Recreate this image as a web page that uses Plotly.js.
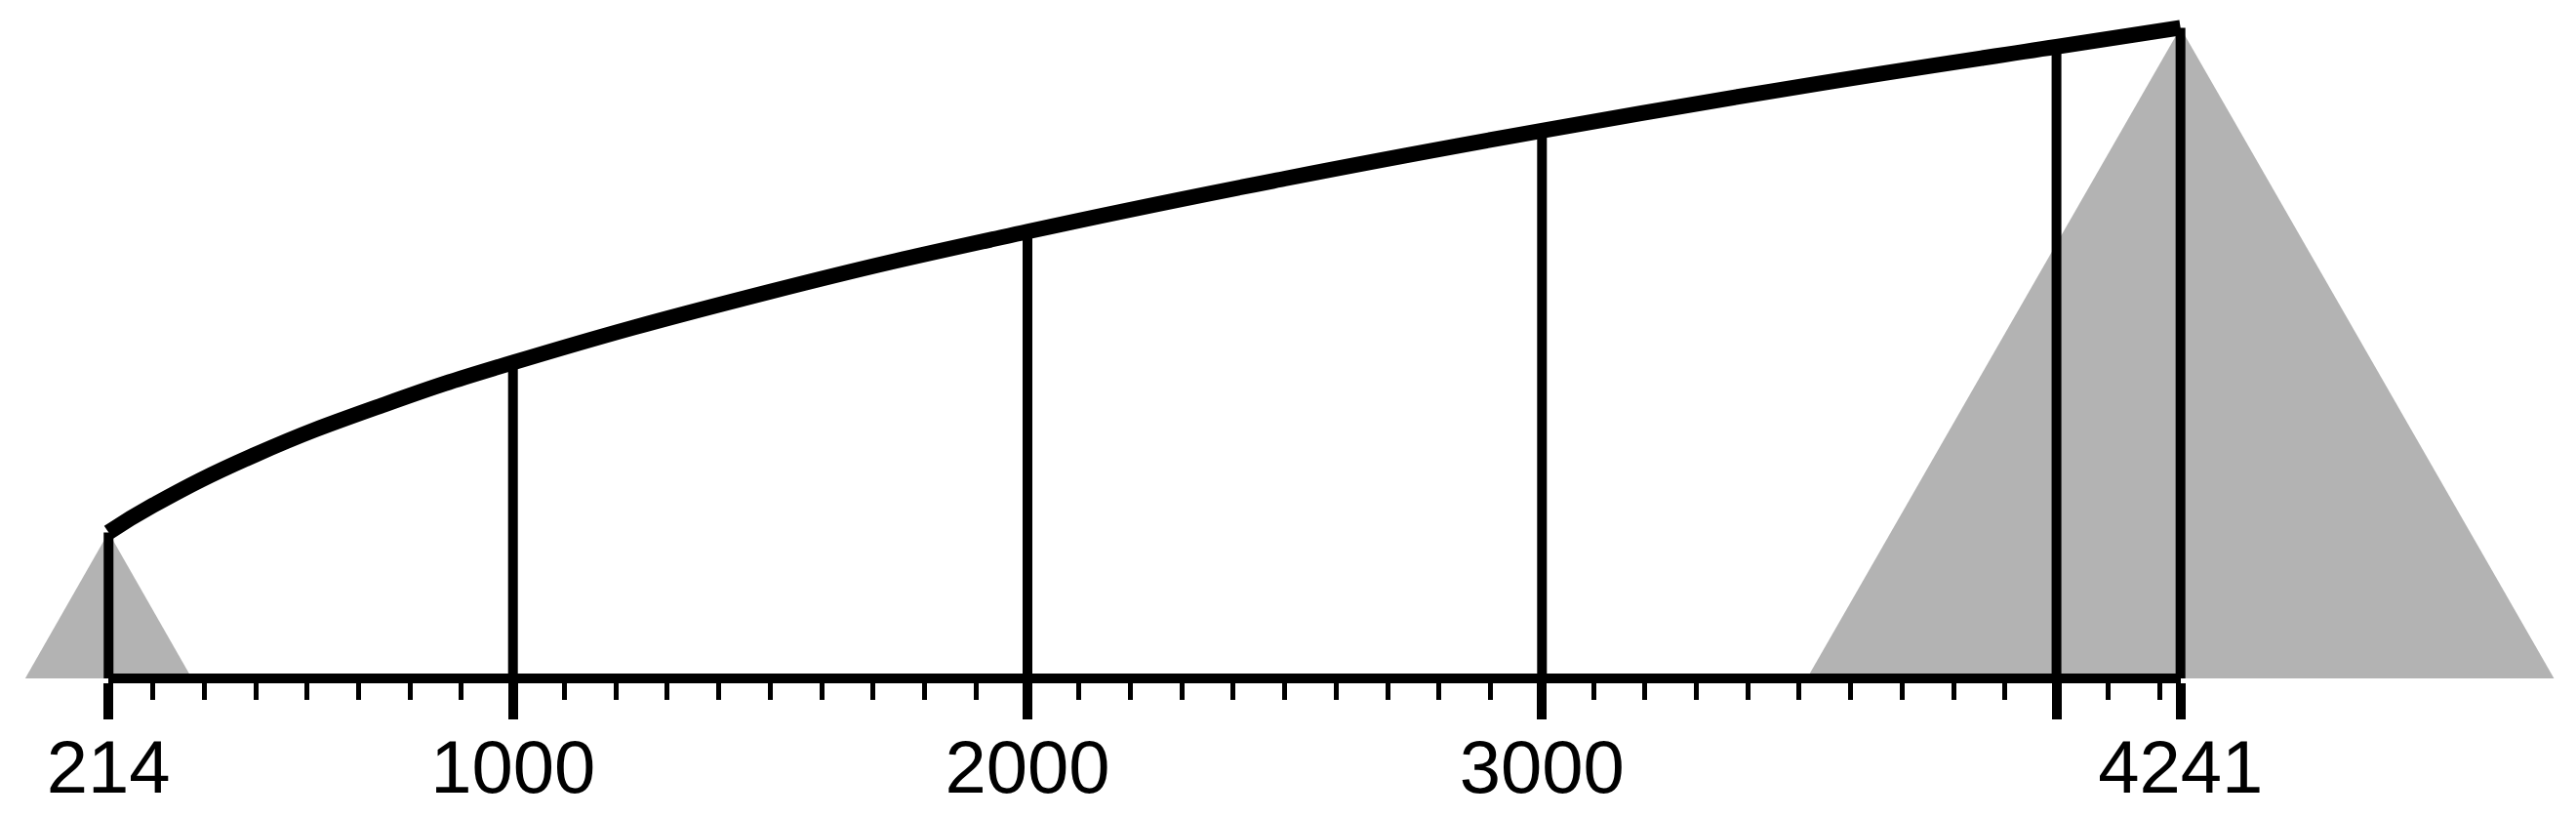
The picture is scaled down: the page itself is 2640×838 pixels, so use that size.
<!DOCTYPE html>
<html><head><meta charset="utf-8">
<script src="https://cdn.plot.ly/plotly-3.0.1.min.js"></script>
<style>html,body{margin:0;padding:0;background:#fff}#chart{width:2640px;height:838px}</style>
</head><body><div id="chart"></div>
<script>
// Curve: positions and heights
const curveX = [214, 300, 500, 750, 1000, 1500, 2000, 2500, 3000, 3500, 4000, 4241];
const curveH = [14.6, 17.3, 22.4, 27.4, 31.6, 38.7, 44.7, 50.0, 54.8, 59.2, 63.2, 65.1];
// Vertical stems up to the curve
const stemX = [214, 1000, 2000, 3000, 4000, 4241];
const stemH = [14.6, 31.6, 44.7, 54.8, 63.2, 65.1];
// Axis ticks
const tickVals = [214, 1000, 2000, 3000, 4000, 4241];
const tickText = ['214', '1000', '2000', '3000', '', '4241'];
// Grey triangles
const triApexX = [214, 4241];
const triApexH = [14.6, 65.1];
const triBaseLeft = [52, 3515];
const triBaseRight = [376, 4967];

const traces = [];
for (let i = 0; i < triApexX.length; i++) {
  traces.push({
    type: 'scatter', mode: 'lines',
    x: [triBaseLeft[i], triApexX[i], triBaseRight[i], triBaseLeft[i]],
    y: [0, triApexH[i], 0, 0],
    fill: 'toself', fillcolor: '#b3b3b3',
    line: {width: 0, color: '#b3b3b3'},
    hoverinfo: 'skip'
  });
}
const sx = [], sy = [];
stemX.forEach((x, i) => { sx.push(x, x, null); sy.push(0, stemH[i], null); });
traces.push({type: 'scatter', mode: 'lines', x: sx, y: sy,
  line: {color: '#000', width: 10}, hoverinfo: 'skip'});
traces.push({type: 'scatter', mode: 'lines', x: curveX, y: curveH,
  line: {color: '#000', width: 16, shape: 'spline', smoothing: 1.3}, hoverinfo: 'skip'});
traces.push({type: 'scatter', mode: 'markers', x: [tickVals[0]], y: [0],
  xaxis: 'x2', yaxis: 'y', marker: {opacity: 0}, hoverinfo: 'skip'});

const layout = {
  width: 2640, height: 838,
  margin: {l: 0, r: 0, t: 0, b: 0, pad: 0},
  showlegend: false,
  paper_bgcolor: '#ffffff', plot_bgcolor: 'rgba(0,0,0,0)',
  xaxis: {domain: [0, 1], range: [3.0, 5009.7], visible: false},
  yaxis: {domain: [0, 1], range: [-13.965, 67.871], visible: false},
  xaxis2: {
    anchor: 'free', position: 143 / 838,
    domain: [111.2 / 2640, 2234.7 / 2640], range: [214, 4241],
    showline: true, linecolor: '#000', linewidth: 10,
    showgrid: false, zeroline: false,
    ticks: 'outside', tickmode: 'array', tickvals: tickVals, ticktext: tickText,
    ticklen: 37, tickwidth: 10, tickcolor: '#000',
    ticklabelstandoff: -16,
    tickfont: {family: 'Liberation Sans, Arial, sans-serif', size: 76, color: '#000'},
    minor: {tickmode: 'linear', tick0: 0, dtick: 100, ticks: 'outside', ticklen: 17,
      tickwidth: 5, tickcolor: '#000', showgrid: false}
  }
};
Plotly.newPlot('chart', traces, layout, {staticPlot: true, displayModeBar: false});
</script></body></html>
